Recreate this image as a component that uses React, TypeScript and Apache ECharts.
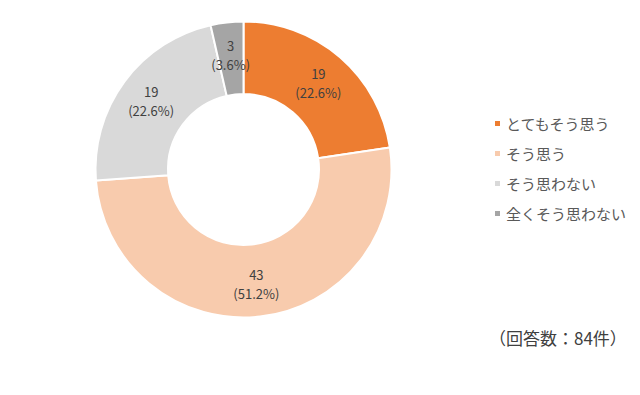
import React, { useEffect, useRef } from "react";
import * as echarts from "echarts";

const categories = ["とてもそう思う", "そう思う", "そう思わない", "全くそう思わない"];
const values = [19, 43, 19, 3];
const colors = ["#ED7D31", "#F8CBAD", "#D9D9D9", "#A5A5A5"];
const FONT = "'Noto Sans CJK JP', 'Noto Sans', sans-serif";

export default function App() {
  const ref = useRef<HTMLDivElement>(null);
  useEffect(() => {
    if (!ref.current) return;
    const chart = echarts.init(ref.current, undefined, { renderer: "svg" });
    const total = values.reduce((a, b) => a + b, 0);
    chart.setOption({
      animation: false,
      backgroundColor: "#ffffff",
      color: colors,
      legend: {
        orient: "vertical",
        left: 488,
        top: 110,
        icon: "rect",
        itemWidth: 7,
        itemHeight: 7,
        itemGap: 13,
        textStyle: { fontFamily: FONT, fontSize: 15, color: "#595959", lineHeight: 17 },
        data: categories,
      },
      graphic: [
        {
          type: "text",
          left: 489,
          top: 329,
          style: {
            text: `（回答数：${total}件）`,
            fontFamily: FONT,
            fontSize: 17,
            fill: "#404040",
          },
        },
      ],
      series: [
        {
          type: "pie",
          center: [243.5, 169.5],
          radius: [75.5, 148],
          startAngle: 90,
          clockwise: true,
          percentPrecision: 1,
          itemStyle: { borderColor: "#ffffff", borderWidth: 2 },
          label: {
            position: "inside",
            formatter: "{c}\n({d}%)",
            fontFamily: FONT,
            fontSize: 13,
            lineHeight: 19,
            color: "#404040",
          },
          labelLine: { show: false },
          data: categories.map((name, i) => ({ name, value: values[i] })),
        },
      ],
    });
    return () => chart.dispose();
  }, []);
  return <div ref={ref} style={{ width: 640, height: 395, position: "absolute", left: 0, top: 0 }} />;
}
